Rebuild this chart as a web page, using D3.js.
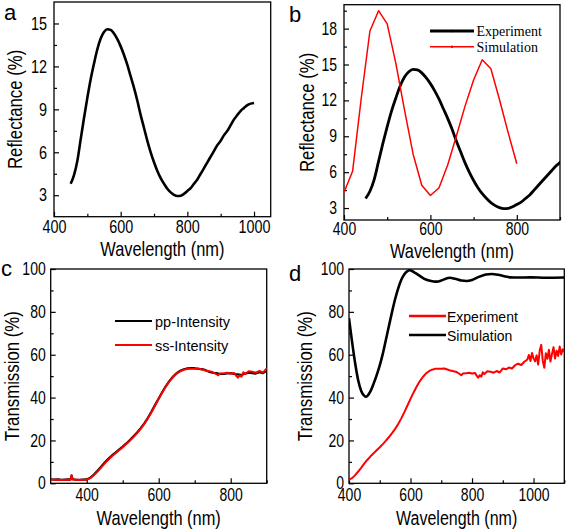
<!DOCTYPE html>
<html><head><meta charset="utf-8">
<script src="https://cdn.jsdelivr.net/npm/d3@7"></script>
<style>
body{margin:0;background:#fff;}
svg{display:block;}
text{font-family:"Liberation Sans",Arial,sans-serif;fill:#000;}
</style></head>
<body>
<svg id="chart" width="567" height="531"></svg>
<script>
// ---------- DATA ----------
// (a) & (b) experiment reflectance
const expWl = [450,460,470,480,490,500,510,520,530,540,550,560,570,580,590,600,610,620,630,640,650,660,670,680,690,700,710,720,730,740,750,760,770,780,790,800,810,820,830,840,850,860,870,880,890,900,910,920,930,940,950,960,970,980,990,1000];
const expR  = [3.8,4.4,5.4,6.9,8.4,9.8,11.1,12.2,13.2,13.95,14.4,14.6,14.55,14.3,13.9,13.4,12.8,12.1,11.3,10.5,9.6,8.6,7.7,6.8,6.0,5.3,4.7,4.2,3.8,3.45,3.2,3.03,2.95,2.97,3.1,3.3,3.5,3.8,4.1,4.5,4.9,5.3,5.7,6.1,6.5,6.8,7.2,7.5,7.9,8.3,8.6,8.9,9.1,9.3,9.4,9.45];
// (b) simulation reflectance
const simWl = [400,420,440,460,480,500,520,540,560,580,600,620,640,660,680,700,720,740,760,780,800];
const simR  = [4.3,6.1,12.2,17.8,19.5,18.4,15.1,11.2,7.5,4.9,4.05,4.7,6.6,9.0,11.5,13.7,15.4,14.65,12.05,9.3,6.7];
// (c) & (d) experimental transmission (ss)
const tWl = [300,310,320,330,340,350,355,358,361,370,380,390,400,410,420,430,440,450,460,470,480,490,500,510,520,530,540,550,560,570,580,590,600,610,620,630,640,650,660,670,680,690,700,710,720,730,740,750,760,765,770,780,790,800,810,815,820,825,830,835,840,850,860,870,880,890,900,910,920,930,940,950,960,970,980,985,990,995,1000,1005,1010,1015,1020,1025,1030,1035,1040,1045,1050,1055,1060,1065,1070,1075,1080,1085,1090,1095,1100];
const ssT = [1.8,1.6,1.7,1.5,1.6,1.7,1.6,3.8,1.8,1.6,1.5,1.6,1.7,2.4,3.8,5.5,7.3,9.3,11.0,12.6,14.0,15.4,16.8,18.3,19.9,21.6,23.4,25.4,27.7,30.3,33.2,36.3,39.4,42.4,45.2,47.6,49.6,51.2,52.3,53.0,53.4,53.5,53.4,53.6,53.1,52.6,52.3,51.9,51.0,50.4,51.2,51.3,51.6,51.2,51.5,50.2,49.3,50.4,49.8,51.8,51.0,52.3,52.1,51.6,52.4,51.7,53.6,53.2,54.0,53.6,55.1,55.8,55.2,56.7,57.8,59.9,57.1,60.8,58.3,56.9,59.7,55.4,61.8,64.6,57.2,53.9,60.7,58.1,62.3,56.8,60.4,63.5,58.2,61.9,59.4,63.8,60.1,62.6,61.2];
// (c) pp transmission
const ppWl = [300,310,320,330,340,350,355,358,361,370,380,390,400,410,420,430,440,450,460,470,480,490,500,510,520,530,540,550,560,570,580,590,600,610,620,630,640,650,660,670,680,690,700,710,720,730,740,750,760,770,780,790,800,810,820,830,840,850,860,870,880,890,900];
const ppT = [1.9,1.7,1.8,1.6,1.7,1.8,1.7,3.6,1.9,1.7,1.6,1.7,1.8,2.6,4.1,5.9,7.7,9.7,11.4,13.0,14.3,15.7,17.1,18.6,20.2,21.9,23.7,25.7,28.0,30.6,33.5,36.6,39.6,42.6,45.4,47.8,49.8,51.4,52.5,53.2,53.6,53.7,53.7,53.4,53.3,52.8,52.0,51.6,51.4,51.0,51.0,51.3,51.4,51.0,50.8,50.5,51.2,51.6,51.4,51.2,51.8,51.4,52.6];
// (d) simulation transmission
const dSimWl = [400,410,420,430,440,450,455,460,470,480,490,500,510,520,530,540,550,560,570,580,590,596,605,615,630,645,660,675,685,700,715,728,745,765,783,800,820,845,864,885,905,924,950,990,1040,1100];
const dSimT  = [77,66,56,48,43,40.8,40.4,40.8,43,46.5,50.5,55,60.5,67,73.5,80,86,91,95,97.6,99,99.4,99.1,98.2,96.8,95.4,94.6,94.2,94.1,94.6,95.5,95.9,95.4,94.6,94.4,94.9,96.2,97.4,97.7,97.3,96.6,96.1,96.0,96.1,95.9,96.0];

// tick label arrays
const aXLabels = [400,600,800,1000], aYLabels = [3,6,9,12,15];
const bXLabels = [400,600,800], bYLabels = [3,6,9,12,15,18];
const cXLabels = [400,600,800], cYLabels = [0,20,40,60,80,100];
const dXLabels = [400,600,800,1000], dYLabels = [0,20,40,60,80,100];

const svg = d3.select("#chart");
const RED = "#ff0000";
const SX = 0.8; // horizontal condensing of axis text

function panel(o){
  const g = svg.append("g");
  const x = d3.scaleLinear().domain(o.xd).range([o.x0,o.x1]);
  const y = d3.scaleLinear().domain(o.yd).range([o.y1,o.y0]);
  const id = "clip"+o.name;
  svg.append("clipPath").attr("id",id).append("rect")
    .attr("x",o.x0).attr("y",o.y0).attr("width",o.x1-o.x0).attr("height",o.y1-o.y0);
  g.append("g").attr("transform",`translate(0,${o.y1})`)
    .call(d3.axisBottom(x).tickValues(o.xMinor).tickSizeInner(-3).tickSizeOuter(0).tickFormat(""))
    .call(s=>s.select(".domain").remove());
  g.append("g").attr("transform",`translate(${o.x0},0)`)
    .call(d3.axisLeft(y).tickValues(o.yMinor).tickSizeInner(-3).tickSizeOuter(0).tickFormat(""))
    .call(s=>s.select(".domain").remove());
  const xa = g.append("g").attr("transform",`translate(0,${o.y1})`)
    .call(d3.axisBottom(x).tickValues(o.xLab).tickSizeInner(-5).tickSizeOuter(0).tickPadding(o.xPad).tickFormat(d3.format("d")))
    .call(s=>s.select(".domain").remove());
  xa.selectAll("text").style("font-size",o.tick+"px").attr("font-family",null)
    .attr("transform",`scale(${SX},1)`);
  const ya = g.append("g").attr("transform",`translate(${o.x0},0)`)
    .call(d3.axisLeft(y).tickValues(o.yLab).tickSizeInner(-5).tickSizeOuter(0).tickPadding(o.yPad).tickFormat(d3.format("d")))
    .call(s=>s.select(".domain").remove());
  ya.selectAll("text").style("font-size",o.tick+"px").attr("font-family",null)
    .attr("x",-o.yPad/SX).attr("transform",`scale(${SX},1)`);
  g.selectAll(".tick line").attr("stroke","#000").attr("stroke-width",1.2);
  g.append("rect").attr("x",o.x0).attr("y",o.y0).attr("width",o.x1-o.x0).attr("height",o.y1-o.y0)
    .attr("fill","none").attr("stroke","#000").attr("stroke-width",1.3);
  g.append("text").attr("transform",`translate(${(o.x0+o.x1)/2},${o.xtY}) scale(${SX},1)`).attr("text-anchor","middle")
    .style("font-size",o.title+"px").text("Wavelength (nm)");
  g.append("text").attr("transform",`translate(${o.ytX},${(o.y0+o.y1)/2}) rotate(-90) scale(${SX},1)`)
    .attr("text-anchor","middle").style("font-size",o.ytitle+"px").text(o.yTitle);
  g.append("text").attr("x",o.lx).attr("y",o.ly).style("font-size","22px").text(o.name);
  const plot = svg.append("g").attr("clip-path",`url(#${id})`);
  return {x,y,plot};
}
function drawLine(p,wl,v,color,w,smooth){
  const line = d3.line().x((d,i)=>p.x(wl[i])).y((d,i)=>p.y(v[i]));
  if(smooth) line.curve(d3.curveMonotoneX);
  p.plot.append("path").datum(v).attr("d",line).attr("fill","none")
    .attr("stroke",color).attr("stroke-width",w).attr("stroke-linejoin","round");
}

// ---- panel a
const pa = panel({name:"a",x0:54,x1:270.7,y0:2,y1:216.7,xd:[400,1050],yd:[1.5,16.5],
  xLab:aXLabels,xMinor:[500,700,900],yLab:aYLabels,yMinor:[4.5,7.5,10.5,13.5],
  tick:18,xPad:4,yPad:7,title:20.5,ytitle:21,xtY:256,ytX:22,yTitle:"Reflectance (%)",lx:4,ly:20});
drawLine(pa,expWl,expR,"#000",2.6,true);

// ---- panel b
const pb = panel({name:"b",x0:344,x1:560,y0:4.7,y1:220,xd:[400,900],yd:[2,20],
  xLab:bXLabels,xMinor:[500,700,900],yLab:bYLabels,yMinor:[4.5,7.5,10.5,13.5,16.5,19.5],
  tick:17.5,xPad:3,yPad:7,title:20.5,ytitle:21,xtY:258,ytX:314,yTitle:"Reflectance (%)",lx:289,ly:22});
drawLine(pb,expWl,expR,"#000",2.8,true);
drawLine(pb,simWl,simR,RED,1.5,false);
[["Experiment","#000",31,2.8],["Simulation",RED,46.7,1.5]].forEach(([t,c,yy,w])=>{
  svg.append("line").attr("x1",430).attr("x2",474).attr("y1",yy).attr("y2",yy).attr("stroke",c).attr("stroke-width",w);
  svg.append("circle").attr("cx",452).attr("cy",yy).attr("r",1.3).attr("fill",c);
  svg.append("text").attr("x",476.5).attr("y",yy+5).style("font-family","'Liberation Serif','Times New Roman',serif").style("font-size","14px").text(t);
});

// ---- panel c
const pc = panel({name:"c",x0:50.7,x1:266.7,y0:269,y1:483.3,xd:[300,900],yd:[0,100],
  xLab:cXLabels,xMinor:[500,700,900],yLab:cYLabels,yMinor:[10,30,50,70,90],
  tick:17.5,xPad:5,yPad:5,title:20.5,ytitle:21,xtY:525,ytX:19,yTitle:"Transmission (%)",lx:1,ly:276});
drawLine(pc,ppWl,ppT,"#000",2.2,false);
drawLine(pc,tWl,ssT,RED,2,false);
[["pp-Intensity","#000",321],["ss-Intensity",RED,345]].forEach(([t,c,yy])=>{
  svg.append("line").attr("x1",115).attr("x2",152).attr("y1",yy).attr("y2",yy).attr("stroke",c).attr("stroke-width",2);
  svg.append("text").attr("x",155).attr("y",yy+5.5).style("font-size","14.5px").text(t);
});

// ---- panel d
const pd = panel({name:"d",x0:349,x1:564.3,y0:269,y1:483.3,xd:[400,1100],yd:[0,100],
  xLab:dXLabels,xMinor:[500,700,900,1100],yLab:dYLabels,yMinor:[10,30,50,70,90],
  tick:17.5,xPad:5,yPad:5,title:20,ytitle:21,xtY:525,ytX:312,yTitle:"Transmission (%)",lx:289,ly:281});
drawLine(pd,tWl,ssT,RED,2,false);
drawLine(pd,dSimWl,dSimT,"#000",2.6,true);
[["Experiment",RED,316],["Simulation","#000",335]].forEach(([t,c,yy])=>{
  svg.append("line").attr("x1",409).attr("x2",446).attr("y1",yy).attr("y2",yy).attr("stroke",c).attr("stroke-width",2.5);
  svg.append("text").attr("x",447).attr("y",yy+5.5).style("font-size","14px").text(t);
});
</script>
</body></html>
